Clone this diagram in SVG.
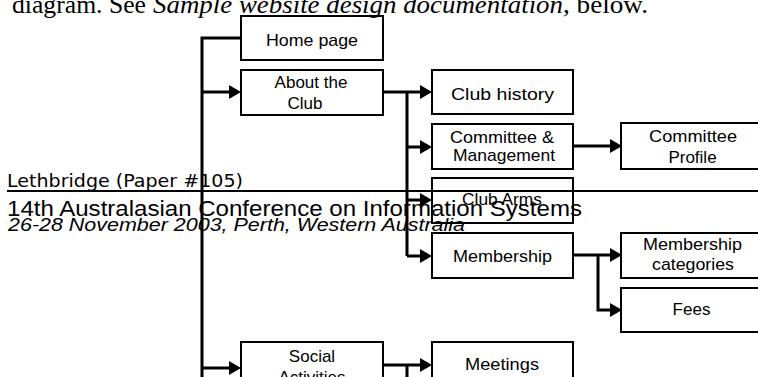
<svg xmlns="http://www.w3.org/2000/svg" width="758" height="377" viewBox="0 0 758 377">
<style>
.box{fill:none;stroke:#000;stroke-width:2}
.lbl{font-family:"Liberation Sans",Arial,sans-serif;font-size:17px;fill:#000;text-anchor:middle}
.conn{fill:none;stroke:#000;stroke-width:3}
.arr{marker-end:url(#ah)}
</style>
<defs>
<marker id="ah" viewBox="0 0 12 14" refX="9" refY="7" markerWidth="12" markerHeight="14" markerUnits="userSpaceOnUse" orient="auto">
<path d="M0,0 L12,7 L0,14 z" fill="#000"/>
</marker>
</defs>
<rect width="758" height="377" fill="#fff"/>
<text font-family="'Liberation Serif','Times New Roman',serif" font-size="25" y="13" fill="#000"><tspan x="12" textLength="134" lengthAdjust="spacingAndGlyphs">diagram. See</tspan><tspan x="153" font-style="italic" textLength="410" lengthAdjust="spacingAndGlyphs">Sample website design documentation</tspan><tspan x="563" textLength="85" lengthAdjust="spacingAndGlyphs">, below.</tspan></text>
<g id="connectors">
<path class="conn" d="M241,38 H202 V380"/>
<path class="conn arr" d="M202,92 H238"/>
<path class="conn arr" d="M202,368 H238"/>
<path class="conn arr" d="M383,92 H429"/>
<path class="conn" d="M407,92 V256"/>
<path class="conn arr" d="M407,147 H429"/>
<path class="conn arr" d="M407,200 H429"/>
<path class="conn arr" d="M407,256 H429"/>
<path class="conn arr" d="M573,146 H619"/>
<path class="conn arr" d="M573,255 H619"/>
<path class="conn arr" d="M598,255 V310 H619"/>
<path class="conn arr" d="M383,365 H429"/>
<path class="conn" d="M407,365 V380"/>
</g>
<g id="home"><rect class="box" x="241" y="16" width="142" height="44"/><text class="lbl" x="312" y="46" textLength="92" lengthAdjust="spacingAndGlyphs">Home page</text></g>
<g id="about"><rect class="box" x="241" y="70" width="142" height="45"/><text class="lbl" x="311" y="88">About the</text><text class="lbl" x="305" y="108.5">Club</text></g>
<g id="history"><rect class="box" x="432" y="70" width="141" height="44"/><text class="lbl" x="502.5" y="100" textLength="103" lengthAdjust="spacingAndGlyphs">Club history</text></g>
<g id="committee"><rect class="box" x="432" y="124" width="141" height="45"/><text class="lbl" x="502" y="142.5" textLength="104" lengthAdjust="spacingAndGlyphs">Committee &amp;</text><text class="lbl" x="504" y="161" textLength="102" lengthAdjust="spacingAndGlyphs">Management</text></g>
<g id="profile"><rect class="box" x="621" y="123" width="144" height="46"/><text class="lbl" x="693" y="141.5" textLength="88" lengthAdjust="spacingAndGlyphs">Committee</text><text class="lbl" x="692.5" y="163">Profile</text></g>
<g id="arms"><rect class="box" x="432" y="178" width="141" height="45"/><text class="lbl" x="502" y="205" textLength="80" lengthAdjust="spacingAndGlyphs">Club Arms</text></g>
<g id="membership"><rect class="box" x="432" y="233" width="141" height="45"/><text class="lbl" x="502.5" y="262" textLength="99" lengthAdjust="spacingAndGlyphs">Membership</text></g>
<g id="categories"><rect class="box" x="621" y="233" width="144" height="45"/><text class="lbl" x="692.5" y="250" textLength="99" lengthAdjust="spacingAndGlyphs">Membership</text><text class="lbl" x="693" y="270" textLength="82" lengthAdjust="spacingAndGlyphs">categories</text></g>
<g id="fees"><rect class="box" x="621" y="288" width="144" height="44"/><text class="lbl" x="691.5" y="315">Fees</text></g>
<g id="social"><rect class="box" x="241" y="342" width="142" height="45"/><text class="lbl" x="312" y="361.5">Social</text><text class="lbl" x="312" y="382.5">Activities</text></g>
<g id="meetings"><rect class="box" x="432" y="342" width="141" height="45"/><text class="lbl" x="502" y="370" textLength="74" lengthAdjust="spacingAndGlyphs">Meetings</text></g>
<g id="header">
<text x="7" y="186.5" font-family="'DejaVu Sans',Tahoma,sans-serif" font-size="17.5" textLength="236" lengthAdjust="spacingAndGlyphs" fill="#000">Lethbridge (Paper #105)</text>
<line x1="7" y1="191" x2="758" y2="191" stroke="#000" stroke-width="2"/>
<text x="7" y="216" font-family="'Liberation Sans',Arial,sans-serif" font-size="22" textLength="575" lengthAdjust="spacingAndGlyphs" fill="#000">14th Australasian Conference on Information Systems</text>
<text x="8" y="231" font-family="'Liberation Sans',Arial,sans-serif" font-size="18.5" font-style="italic" textLength="457" lengthAdjust="spacingAndGlyphs" fill="#000">26-28 November 2003, Perth, Western Australia</text>
</g>
</svg>
